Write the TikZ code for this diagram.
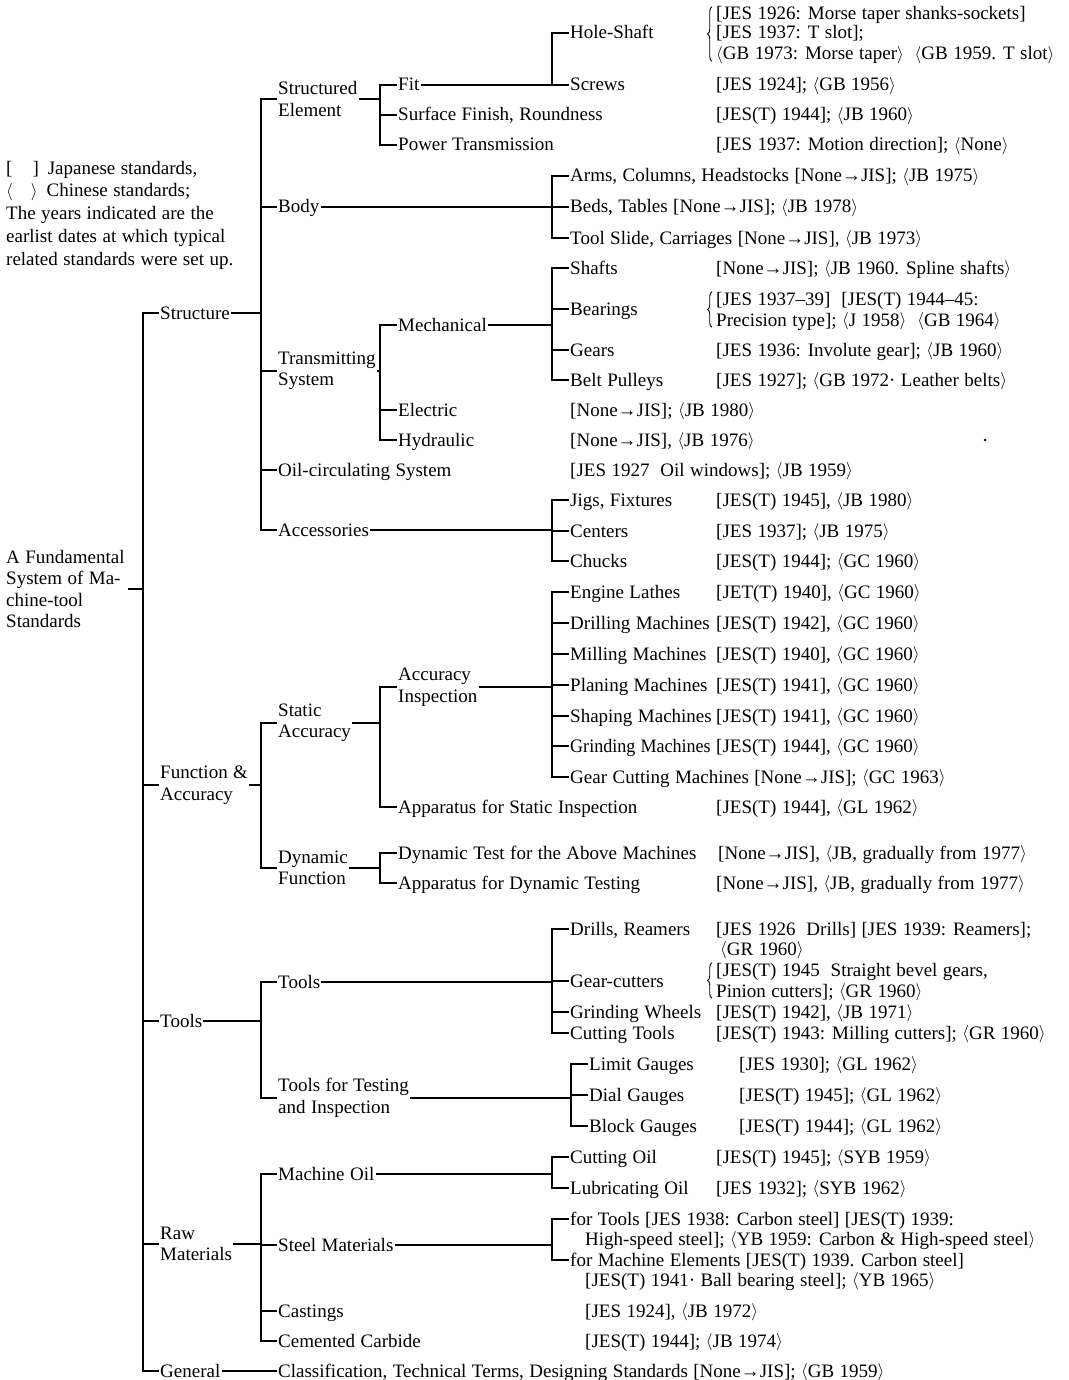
\documentclass[tikz,border=0pt]{standalone}
\usepackage{fontspec}
\setmainfont{Liberation Serif}[WordSpace=1.15]
\usetikzlibrary{decorations.pathreplacing}
\newcommand\opA{\raisebox{0.5pt}{$\langle$}}
\newcommand\clA{\raisebox{0.5pt}{$\rangle$}}
\newcommand\fsz{\fontsize{19}{21.5}\selectfont}
\begin{document}
\begin{tikzpicture}[x=1pt,y=-1pt,
  every node/.style={font=\fsz, inner xsep=1pt, inner ysep=0pt},
  lab/.style={anchor=west, text height=13pt, text depth=1pt},
  lab2/.style={anchor=west, align=left},
  ln/.style={line width=1.1pt},
  brc/.style={decorate, decoration={brace, amplitude=4.5pt}, line width=0.9pt}]
\useasboundingbox (0,0) rectangle (1068,1380);
\coordinate (v0) at (143,0);
\coordinate (v1) at (261,0);
\coordinate (v2) at (380,0);
\coordinate (v3) at (552,0);
\coordinate (v4) at (571,0);

% legend and root
\node[lab2, font=\fontsize{19}{22.75}\selectfont] (legend) at (5,215) {[\hspace{20pt}]\hspace{9pt}Japanese standards,\\ \opA\hspace{18pt}\clA\hspace{9pt}Chinese standards;\\ The years indicated are the\\ earlist dates at which typical\\ related standards were set up.};
\node[lab2, font=\fontsize{19}{21.3}\selectfont] (root) at (5,589) {A Fundamental\\System of Ma-\\chine-tool\\Standards};

% level 1
\node[lab] (str) at (159,313) {Structure};
\node[lab2] (fa) at (159,785) {Function \&\\Accuracy};
\node[lab] (tls) at (159,1021) {Tools};
\node[lab2] (raw) at (159,1244) {Raw\\Materials};
\node[lab] (gen) at (159,1371) {General};
\node[lab] (cls) at (277,1371) {Classification, Technical Terms, Designing Standards [None→JIS]; \opA GB 1959\clA};

% level 2
\node[lab2] (se) at (277,99) {Structured\\Element};
\node[lab] (body) at (277,207) {Body};
\node[lab2] (trs) at (277,371) {Transmitting\\System};
\node[lab] (oil) at (277,470) {Oil-circulating System};
\node[lab] (acc) at (277,530) {Accessories};
\node[lab2] (sta) at (277,723) {Static\\Accuracy};
\node[lab2] (dyn) at (277,868) {Dynamic\\Function};
\node[lab] (tl2) at (277,982) {Tools};
\node[lab2] (tti) at (277,1098) {Tools for Testing\\and Inspection};
\node[lab] (moil) at (277,1174) {Machine Oil};
\node[lab] (steel) at (277,1245) {Steel Materials};
\node[lab] (cast) at (277,1311) {Castings};
\node[lab] (cem) at (277,1341) {Cemented Carbide};

% level 3
\node[lab] (fit) at (397,85) {Fit};
\node[lab] (surf) at (397,115) {Surface Finish, Roundness};
\node[lab] (pow) at (397,145) {Power Transmission};
\node[lab] (mech) at (397,325) {Mechanical};
\node[lab] (elec) at (397,410) {Electric};
\node[lab] (hyd) at (397,440) {Hydraulic};
\node[lab2] (ai) at (397,687) {Accuracy\\Inspection};
\node[lab] (asi) at (397,807) {Apparatus for Static Inspection};
\node[lab] (dt) at (397,853) {Dynamic Test for the Above Machines};
\node[lab] (adt) at (397,883) {Apparatus for Dynamic Testing};

% level 4
\node[lab] (hole) at (569,33) {Hole-Shaft};
\node[lab] (screw) at (569,85) {Screws};
\node[lab] (arms) at (569,176) {Arms, Columns, Headstocks [None→JIS]; \opA JB 1975\clA};
\node[lab] (beds) at (569,207) {Beds, Tables [None→JIS]; \opA JB 1978\clA};
\node[lab] (slide) at (569,238) {Tool Slide, Carriages [None→JIS], \opA JB 1973\clA};
\node[lab] (shaft) at (569,268) {Shafts};
\node[lab] (bear) at (569,309) {Bearings};
\node[lab] (gear) at (569,350) {Gears};
\node[lab] (belt) at (569,380) {Belt Pulleys};
\node[lab] (jig) at (569,500) {Jigs, Fixtures};
\node[lab] (cent) at (569,531) {Centers};
\node[lab] (chuck) at (569,561) {Chucks};
\node[lab] (eng) at (569,592) {Engine Lathes};
\node[lab] (drill) at (569,623) {Drilling Machines};
\node[lab] (mill) at (569,654) {Milling Machines};
\node[lab] (plan) at (569,685) {Planing Machines};
\node[lab] (shap) at (569,716) {Shaping Machines};
\node[lab] (grind) at (569,746) {\scalebox{0.95}[1]{Grinding Machines}};
\node[lab] (gcut) at (569,777) {Gear Cutting Machines [None→JIS]; \opA GC 1963\clA};
\node[lab] (drl) at (569,929) {Drills, Reamers};
\node[lab] (gcu) at (569,981) {Gear-cutters};
\node[lab] (gw) at (569,1012) {Grinding Wheels};
\node[lab] (ct) at (569,1033) {Cutting Tools};
\node[lab] (lim) at (588,1064) {Limit Gauges};
\node[lab] (dial) at (588,1095) {Dial Gauges};
\node[lab] (blk) at (588,1126) {Block Gauges};
\node[lab] (cut) at (569,1157) {Cutting Oil};
\node[lab] (lub) at (569,1188) {Lubricating Oil};
\node[lab] (ft) at (569,1219) {for Tools [JES 1938: Carbon steel] [JES(T) 1939:};
\node[lab] (ft2) at (584,1239) {High-speed steel]; \opA YB 1959: Carbon \& High-speed steel\clA};
\node[lab] (fme) at (569,1260) {for Machine Elements [JES(T) 1939. Carbon steel]};
\node[lab] (fme2) at (584,1280) {[JES(T) 1941· Ball bearing steel]; \opA YB 1965\clA};

% references
\node[lab] (rh1) at (715,14) {[JES 1926: Morse taper shanks-sockets]};
\node[lab] (rh2) at (715,33) {[JES 1937: T slot];};
\node[lab] (rh3) at (715,54) {\opA GB 1973: Morse taper\clA\ \ \opA GB 1959. T slot\clA};
\node[lab] (rscr) at (715,85) {[JES 1924]; \opA GB 1956\clA};
\node[lab] (rsurf) at (715,115) {[JES(T) 1944]; \opA JB 1960\clA};
\node[lab] (rpow) at (715,145) {[JES 1937: Motion direction]; \opA None\clA};
\node[lab] (rshaft) at (715,268) {[None→JIS]; \opA JB 1960. Spline shafts\clA};
\node[lab] (rb1) at (715,299) {[JES 1937–39]\ \ [JES(T) 1944–45:};
\node[lab] (rb2) at (715,320) {Precision type]; \opA J 1958\clA\ \ \opA GB 1964\clA};
\node[lab] (rgear) at (715,350) {[JES 1936: Involute gear]; \opA JB 1960\clA};
\node[lab] (rbelt) at (715,380) {[JES 1927]; \opA GB 1972· Leather belts\clA};
\node[lab] (relec) at (569,410) {[None→JIS]; \opA JB 1980\clA};
\node[lab] (rhyd) at (569,440) {[None→JIS], \opA JB 1976\clA};
\node[lab] (roil) at (569,470) {[JES 1927\ \ Oil windows]; \opA JB 1959\clA};
\node[lab] (rjig) at (715,500) {[JES(T) 1945], \opA JB 1980\clA};
\node[lab] (rcent) at (715,531) {[JES 1937]; \opA JB 1975\clA};
\node[lab] (rchuck) at (715,561) {[JES(T) 1944]; \opA GC 1960\clA};
\node[lab] (reng) at (715,592) {[JET(T) 1940], \opA GC 1960\clA};
\node[lab] (rdrill) at (715,623) {[JES(T) 1942], \opA GC 1960\clA};
\node[lab] (rmill) at (715,654) {[JES(T) 1940], \opA GC 1960\clA};
\node[lab] (rplan) at (715,685) {[JES(T) 1941], \opA GC 1960\clA};
\node[lab] (rshap) at (715,716) {[JES(T) 1941], \opA GC 1960\clA};
\node[lab] (rgrind) at (715,746) {[JES(T) 1944], \opA GC 1960\clA};
\node[lab] (rasi) at (715,807) {[JES(T) 1944], \opA GL 1962\clA};
\node[lab] (rdt) at (717,853) {[None→JIS], \opA JB, gradually from 1977\clA};
\node[lab] (radt) at (715,883) {[None→JIS], \opA JB, gradually from 1977\clA};
\node[lab] (rdrl) at (715,929) {[JES 1926\ \ Drills] [JES 1939: Reamers];};
\node[lab] (rdrl2) at (719,949) {\opA GR 1960\clA};
\node[lab] (rg1) at (715,970) {[JES(T) 1945\ \ Straight bevel gears,};
\node[lab] (rg2) at (715,991) {Pinion cutters]; \opA GR 1960\clA};
\node[lab] (rgw) at (715,1012) {[JES(T) 1942], \opA JB 1971\clA};
\node[lab] (rct) at (715,1033) {[JES(T) 1943: Milling cutters]; \opA GR 1960\clA};
\node[lab] (rlim) at (738,1064) {[JES 1930]; \opA GL 1962\clA};
\node[lab] (rdial) at (738,1095) {[JES(T) 1945]; \opA GL 1962\clA};
\node[lab] (rblk) at (738,1126) {[JES(T) 1944]; \opA GL 1962\clA};
\node[lab] (rcut) at (715,1157) {[JES(T) 1945]; \opA SYB 1959\clA};
\node[lab] (rlub) at (715,1188) {[JES 1932]; \opA SYB 1962\clA};
\node[lab] (rcast) at (584,1311) {[JES 1924], \opA JB 1972\clA};
\node[lab] (rcem) at (584,1341) {[JES(T) 1944]; \opA JB 1974\clA};

% braces
\draw[brc] ([xshift=-3pt]rh3.south west) -- ([xshift=-3pt]rh1.north west);
\draw[brc] ([xshift=-3pt]rb2.south west) -- ([xshift=-3pt]rb1.north west);
\draw[brc] ([xshift=-3pt]rg2.south west) -- ([xshift=-3pt]rg1.north west);

% connectors: root and level 1
\draw[ln] ([xshift=2pt]root.east) -- (root.east -| v0);
\draw[ln] (str.west) -- (str.west -| v0) -- (gen.west -| v0) -- (gen.west);
\draw[ln] (fa.west) -- (fa.west -| v0);
\draw[ln] (tls.west) -- (tls.west -| v0);
\draw[ln] (raw.west) -- (raw.west -| v0);
\draw[ln] (gen.east) -- (cls.west);

% level 2
\draw[ln] (str.east) -- (str.east -| v1);
\draw[ln] (se.west) -- (se.west -| v1) -- (acc.west -| v1) -- (acc.west);
\draw[ln] (body.west) -- (body.west -| v1);
\draw[ln] (trs.west) -- (trs.west -| v1);
\draw[ln] (oil.west) -- (oil.west -| v1);
\draw[ln] (fa.east) -- (fa.east -| v1);
\draw[ln] (sta.west) -- (sta.west -| v1) -- (dyn.west -| v1) -- (dyn.west);
\draw[ln] (tls.east) -- (tls.east -| v1);
\draw[ln] (tl2.west) -- (tl2.west -| v1) -- (tti.west -| v1) -- (tti.west);
\draw[ln] (raw.east) -- (raw.east -| v1);
\draw[ln] (moil.west) -- (moil.west -| v1) -- (cem.west -| v1) -- (cem.west);
\draw[ln] (steel.west) -- (steel.west -| v1);
\draw[ln] (cast.west) -- (cast.west -| v1);

% level 3
\draw[ln] (se.east) -- (se.east -| v2);
\draw[ln] (fit.west) -- (fit.west -| v2) -- (pow.west -| v2) -- (pow.west);
\draw[ln] (surf.west) -- (surf.west -| v2);
\draw[ln] (trs.east) -- (trs.east -| v2);
\draw[ln] (mech.west) -- (mech.west -| v2) -- (hyd.west -| v2) -- (hyd.west);
\draw[ln] (elec.west) -- (elec.west -| v2);
\draw[ln] (sta.east) -- (sta.east -| v2);
\draw[ln] (ai.west) -- (ai.west -| v2) -- (asi.west -| v2) -- (asi.west);
\draw[ln] (dyn.east) -- (dyn.east -| v2);
\draw[ln] (dt.west) -- (dt.west -| v2) -- (adt.west -| v2) -- (adt.west);

% level 4
\draw[ln] (fit.east) -- (fit.east -| v3);
\draw[ln] (hole.west) -- (hole.west -| v3) -- (screw.west -| v3) -- (screw.west);
\draw[ln] (body.east) -- (body.east -| v3);
\draw[ln] (arms.west) -- (arms.west -| v3) -- (slide.west -| v3) -- (slide.west);
\draw[ln] (beds.west) -- (beds.west -| v3);
\draw[ln] (mech.east) -- (mech.east -| v3);
\draw[ln] (shaft.west) -- (shaft.west -| v3) -- (belt.west -| v3) -- (belt.west);
\draw[ln] (bear.west) -- (bear.west -| v3);
\draw[ln] (gear.west) -- (gear.west -| v3);
\draw[ln] (acc.east) -- (acc.east -| v3);
\draw[ln] (jig.west) -- (jig.west -| v3) -- (chuck.west -| v3) -- (chuck.west);
\draw[ln] (cent.west) -- (cent.west -| v3);
\draw[ln] (ai.east) -- (ai.east -| v3);
\draw[ln] (eng.west) -- (eng.west -| v3) -- (gcut.west -| v3) -- (gcut.west);
\foreach \n in {drill,mill,plan,shap,grind} \draw[ln] (\n.west) -- (\n.west -| v3);
\draw[ln] (tl2.east) -- (tl2.east -| v3);
\draw[ln] (drl.west) -- (drl.west -| v3) -- (ct.west -| v3) -- (ct.west);
\draw[ln] (gcu.west) -- (gcu.west -| v3);
\draw[ln] (gw.west) -- (gw.west -| v3);
\draw[ln] (tti.east) -- (tti.east -| v4);
\draw[ln] (lim.west) -- (lim.west -| v4) -- (blk.west -| v4) -- (blk.west);
\draw[ln] (dial.west) -- (dial.west -| v4);
\draw[ln] (moil.east) -- (moil.east -| v3);
\draw[ln] (cut.west) -- (cut.west -| v3) -- (lub.west -| v3) -- (lub.west);
\draw[ln] (steel.east) -- (steel.east -| v3);
\draw[ln] (ft.west) -- (ft.west -| v3) -- (fme.west -| v3) -- (fme.west);

\fill (985,440) circle (1.3);
\end{tikzpicture}
\end{document}
